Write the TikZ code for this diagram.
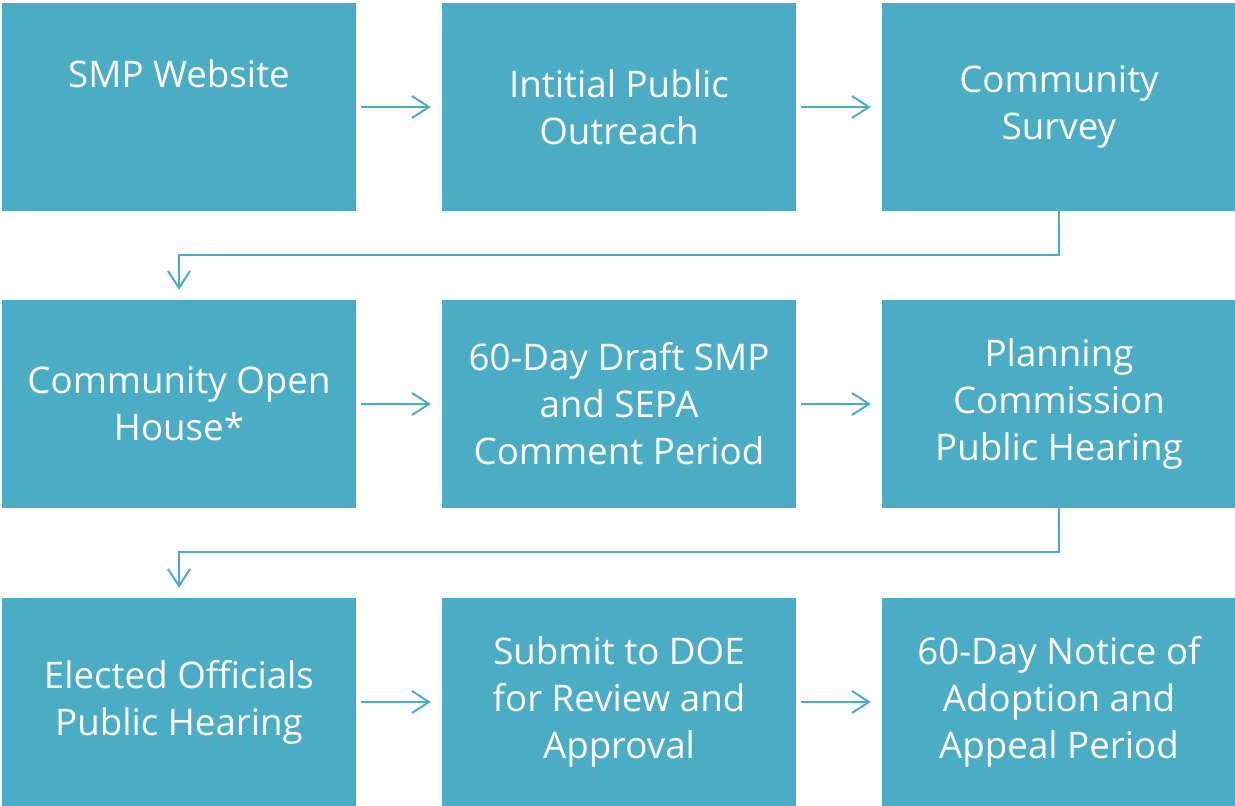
\documentclass[tikz,border=0pt]{standalone}
\usepackage{fontspec}
\setmainfont{Open Sans}
\usetikzlibrary{arrows.meta}
\definecolor{boxc}{HTML}{4BACC6}
\begin{document}
\begin{tikzpicture}[x=1pt,y=-1pt,
  box/.style={fill=boxc,draw=none,minimum width=354pt,minimum height=208pt,inner sep=0pt,
    text=white,align=center,font=\fontsize{36.7}{47}\selectfont},
  conn/.style={draw=boxc,line width=2pt,-{Straight Barb[length=17pt,width=22pt]}}]
\useasboundingbox (0,0) rectangle (1235,806);
\node[box] (a1) at (179,107) {};
\node[white,font=\fontsize{36.7}{47}\selectfont] (t1) at (179,74) {SMP Website};
\node[box] (a2) at (619,107) {Intitial Public\\Outreach};
\node[box] (a3) at (1059,107) {Community\\Survey};
\node[box] (b1) at (179,404) {Community Open\\House*};
\node[box] (b2) at (619,404) {60-Day Draft SMP\\and SEPA\\Comment Period};
\node[box] (b3) at (1059,404) {Planning\\Commission\\Public Hearing};
\node[box] (c1) at (179,702) {Elected Officials\\Public Hearing};
\node[box] (c2) at (619,702) {Submit to DOE\\for Review and\\Approval};
\node[box] (c3) at (1059,702) {60-Day Notice of\\Adoption and\\Appeal Period};
\foreach \r in {a,b,c}{
  \draw[conn,shorten <=5pt,shorten >=11pt] (\r1.east) -- (\r2.west);
  \draw[conn,shorten <=5pt,shorten >=11pt] (\r2.east) -- (\r3.west);
}
\draw[conn,shorten >=10pt] (a3.south) -- ++(0,44) -| (b1.north);
\draw[conn,shorten >=10pt] (b3.south) -- ++(0,44) -| (c1.north);
\end{tikzpicture}
\end{document}
